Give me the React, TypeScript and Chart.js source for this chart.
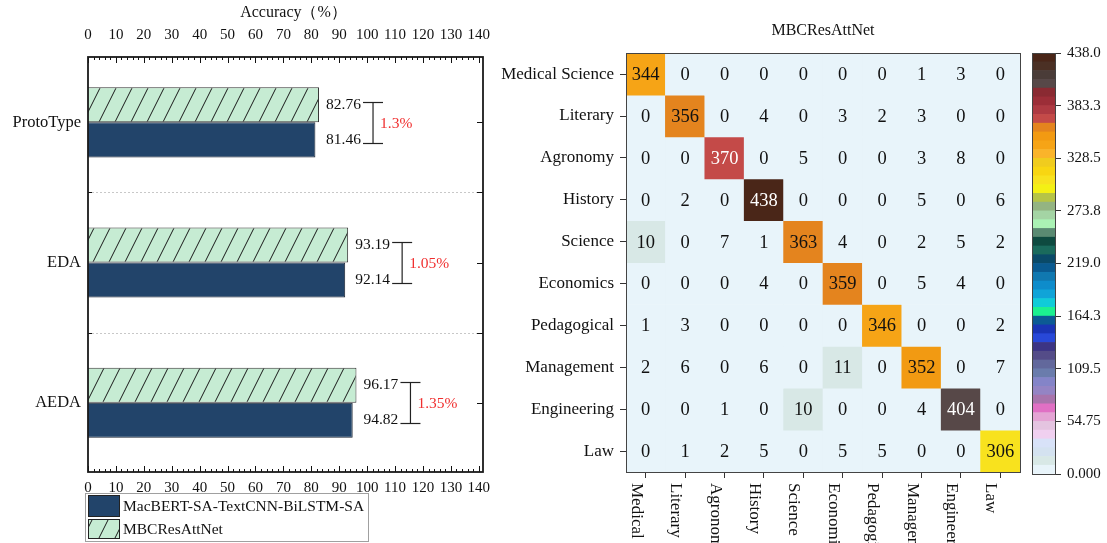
import React, { useEffect, useRef } from "react";
import { Chart, registerables } from "chart.js";

Chart.register(...registerables);

const SERIF = '"Liberation Serif", "Times New Roman", "DejaVu Serif", serif';
Chart.defaults.font.family = SERIF;
Chart.defaults.color = "#111";

// ---- Accuracy comparison (left panel) ----
const augmentations = ["ProtoType", "EDA", "AEDA"];
const macbertAcc = [81.46, 92.14, 94.82];
const mbcAcc = [82.76, 93.19, 96.17];
const accuracyTicks = [0, 10, 20, 30, 40, 50, 60, 70, 80, 90, 100, 110, 120, 130, 140];
const accuracyTitle = "Accuracy（%）";
const macbertName = "MacBERT-SA-TextCNN-BiLSTM-SA";
const mbcName = "MBCResAttNet";

// ---- Confusion matrix (right panel) ----
const classes = [
  "Medical Science",
  "Literary",
  "Agronomy",
  "History",
  "Science",
  "Economics",
  "Pedagogical",
  "Management",
  "Engineering",
  "Law",
];
const confusion = [
  [344, 0, 0, 0, 0, 0, 0, 1, 3, 0],
  [0, 356, 0, 4, 0, 3, 2, 3, 0, 0],
  [0, 0, 370, 0, 5, 0, 0, 3, 8, 0],
  [0, 2, 0, 438, 0, 0, 0, 5, 0, 6],
  [10, 0, 7, 1, 363, 4, 0, 2, 5, 2],
  [0, 0, 0, 4, 0, 359, 0, 5, 4, 0],
  [1, 3, 0, 0, 0, 0, 346, 0, 0, 2],
  [2, 6, 0, 6, 0, 11, 0, 352, 0, 7],
  [0, 0, 1, 0, 10, 0, 0, 4, 404, 0],
  [0, 1, 2, 5, 0, 5, 5, 0, 0, 306],
];
const colorbarTicks = [0, 54.75, 109.5, 164.25, 219, 273.75, 328.5, 383.25, 438];
const colorbarTickLabels = ["0.000", "54.75", "109.5", "164.3", "219.0", "273.8", "328.5", "383.3", "438.0"];

// discrete colour levels, lowest value first
const colorLevels = [
  "#E8F4FA", "#D8E8E6", "#D4E2F0", "#D8E2F8", "#F0D0F0", "#E4C4E0", "#E4A4D4", "#E070C4",
  "#A874AC", "#9484C4", "#8484C8", "#6A7CAC", "#62689C", "#544C88", "#3C3484", "#2848D8",
  "#1A34B4", "#0C5A94", "#1CF090", "#10CCD8", "#10A4D8", "#0E8CCB", "#1078B0", "#0A5A90",
  "#0A4A68", "#1A6A5C", "#0E4A40", "#5A8A72", "#AAF2B4", "#A4D4A4", "#94B482", "#B6C446",
  "#F4F014", "#F8E21E", "#F8D612", "#F0CC1E", "#FAB42A", "#F6A416", "#F29A12", "#E4841E",
  "#C44A48", "#AE3A42", "#9C2E38", "#8A2A32", "#574848", "#4A3C38", "#4B3024", "#4A2618",
];

const colorbarMax = Math.max(...confusion.flat());
const levelStep = colorbarMax / colorLevels.length;

function cellColor(v: number): string {
  const k = Math.min(colorLevels.length - 1, Math.floor(v / levelStep));
  return colorLevels[k];
}

function isDark(hex: string): boolean {
  const n = parseInt(hex.slice(1), 16);
  const r = (n >> 16) & 255, g = (n >> 8) & 255, b = n & 255;
  return (0.299 * r + 0.587 * g + 0.114 * b) / 255 < 0.5;
}

const DARK_BAR = "#22446A";
const LIGHT_GREEN = "#C6ECD3";

function makeHatch(): CanvasPattern | string {
  const c = document.createElement("canvas");
  c.width = 16;
  c.height = 32;
  const g = c.getContext("2d");
  if (!g) return LIGHT_GREEN;
  g.fillStyle = LIGHT_GREEN;
  g.fillRect(0, 0, 16, 32);
  g.strokeStyle = "#1a1a1a";
  g.lineWidth = 1;
  g.beginPath();
  for (const off of [-16, 0, 16]) {
    g.moveTo(off, 32);
    g.lineTo(off + 16, 0);
  }
  g.stroke();
  return g.createPattern(c, "repeat") || LIGHT_GREEN;
}

function line(ctx: CanvasRenderingContext2D, x1: number, y1: number, x2: number, y2: number) {
  ctx.beginPath();
  ctx.moveTo(x1, y1);
  ctx.lineTo(x2, y2);
  ctx.stroke();
}

// keep tick-label overflow from shrinking the plot area
const noOverflow = (s: any) => {
  s.paddingLeft = 0;
  s.paddingRight = 0;
  s.paddingTop = 0;
  s.paddingBottom = 0;
};

function accuracyConfig(hatch: CanvasPattern | string): any {
  const decor = {
    id: "accuracyDecor",
    afterDraw(chart: any) {
      const ctx: CanvasRenderingContext2D = chart.ctx;
      const ca = chart.chartArea;
      const xs = chart.scales.x;
      const ys = chart.scales.y;
      ctx.save();

      // axis title above the top scale
      ctx.fillStyle = "#111";
      ctx.font = `16px ${SERIF}`;
      ctx.textAlign = "center";
      ctx.textBaseline = "middle";
      ctx.fillText(accuracyTitle, (ca.left + ca.right) / 2 + 8, 13);

      // dotted separators between groups
      ctx.strokeStyle = "#c8c8c8";
      ctx.lineWidth = 1;
      ctx.setLineDash([2, 2]);
      for (let i = 0; i < augmentations.length - 1; i++) {
        const y = Math.round(ys.getPixelForValue(i + 0.5)) + 0.5;
        line(ctx, ca.left, y, ca.right, y);
      }
      ctx.setLineDash([]);

      // inward ticks on top and bottom axes
      ctx.strokeStyle = "#111";
      ctx.lineWidth = 1;
      const last = accuracyTicks[accuracyTicks.length - 1];
      for (let v = accuracyTicks[0]; v <= last; v += 2) {
        const x = Math.round(xs.getPixelForValue(v)) + 0.5;
        const len = v % 10 === 0 ? 6 : 3;
        line(ctx, x, ca.top, x, ca.top + len);
        line(ctx, x, ca.bottom, x, ca.bottom - len);
      }
      // right axis ticks at groups and separators, left axis at separators
      for (let i = 0; i < augmentations.length; i++) {
        const y = Math.round(ys.getPixelForValue(i)) + 0.5;
        line(ctx, ca.right - 6, y, ca.right, y);
        if (i < augmentations.length - 1) {
          const ys2 = Math.round(ys.getPixelForValue(i + 0.5)) + 0.5;
          line(ctx, ca.right - 6, ys2, ca.right, ys2);
          line(ctx, ca.left, ys2, ca.left + 4, ys2);
        }
      }

      // frame
      ctx.strokeStyle = "#1a1a1a";
      ctx.lineWidth = 1.8;
      ctx.strokeRect(ca.left, ca.top, ca.right - ca.left, ca.bottom - ca.top);

      // value labels and difference brackets
      const top = chart.getDatasetMeta(0).data;
      const bot = chart.getDatasetMeta(1).data;
      ctx.font = `15.5px ${SERIF}`;
      ctx.textBaseline = "middle";
      ctx.textAlign = "left";
      for (let i = 0; i < augmentations.length; i++) {
        const a = top[i];
        const b = bot[i];
        const lx = Math.max(a.x, b.x) + 7;
        ctx.fillStyle = "#111";
        ctx.fillText(mbcAcc[i].toFixed(2), lx, a.y);
        ctx.fillText(macbertAcc[i].toFixed(2), lx, b.y);
        const bx = lx + 37;
        const y1 = Math.round(a.y - 3) + 0.5;
        const y2 = Math.round(b.y + 3) + 0.5;
        ctx.strokeStyle = "#222";
        ctx.lineWidth = 1.2;
        line(ctx, bx, y1, bx + 20, y1);
        line(ctx, bx, y2, bx + 20, y2);
        line(ctx, bx + 10, y1, bx + 10, y2);
        ctx.fillStyle = "#f03030";
        const diff = +(mbcAcc[i] - macbertAcc[i]).toFixed(2);
        ctx.fillText(`${diff}%`, bx + 17, (y1 + y2) / 2 + 1);
      }

      // legend box
      ctx.strokeStyle = "#a0a0a0";
      ctx.lineWidth = 1;
      ctx.strokeRect(85.5, 493.5, 283, 48);
      ctx.fillStyle = DARK_BAR;
      ctx.fillRect(88, 495, 32, 22);
      ctx.strokeStyle = "#222";
      ctx.strokeRect(88.5, 495.5, 31, 21);
      ctx.fillStyle = hatch as any;
      ctx.fillRect(88, 519, 32, 20);
      ctx.strokeRect(88.5, 519.5, 31, 19);
      ctx.fillStyle = "#111";
      ctx.font = `15.5px ${SERIF}`;
      ctx.textAlign = "left";
      ctx.textBaseline = "middle";
      ctx.fillText(macbertName, 123, 506.5);
      ctx.fillText(mbcName, 123, 529.5);

      ctx.restore();
    },
  };

  const xTickSetup = (s: any) => {
    s.ticks = accuracyTicks.map((v) => ({ value: v }));
  };
  const X_MAX = 141.5;

  return {
    type: "bar",
    data: {
      datasets: [
        {
          label: mbcName,
          data: mbcAcc.map((v, i) => ({ x: v, y: i })),
          backgroundColor: hatch,
          borderColor: "#333",
          borderWidth: 1,
        },
        {
          label: macbertName,
          data: macbertAcc.map((v, i) => ({ x: v, y: i })),
          backgroundColor: DARK_BAR,
          borderColor: "#1a2330",
          borderWidth: 1,
        },
      ],
    },
    options: {
      indexAxis: "y",
      animation: false,
      responsive: false,
      events: [],
      layout: { padding: { left: 0, right: 17, top: 0, bottom: 0 } },
      datasets: { bar: { categoryPercentage: 0.5, barPercentage: 1 } },
      plugins: { legend: { display: false }, tooltip: { enabled: false } },
      scales: {
        x: {
          type: "linear",
          position: "top",
          min: 0,
          max: X_MAX,
          afterBuildTicks: xTickSetup,
          grid: { display: false, drawTicks: false },
          border: { display: false },
          ticks: { padding: 13, font: { size: 15 }, color: "#111", maxRotation: 0, autoSkip: false },
          afterFit: (s: any) => {
            s.height = 57;
            noOverflow(s);
          },
        },
        x2: {
          type: "linear",
          position: "bottom",
          min: 0,
          max: X_MAX,
          afterBuildTicks: xTickSetup,
          grid: { display: false, drawTicks: false },
          border: { display: false },
          ticks: { padding: 7, font: { size: 15 }, color: "#111", maxRotation: 0, autoSkip: false },
          afterFit: (s: any) => {
            s.height = 71;
            noOverflow(s);
          },
        },
        y: {
          type: "linear",
          offset: false,
          reverse: true,
          min: -0.466,
          max: 2.494,
          afterBuildTicks: (s: any) => {
            s.ticks = augmentations.map((_, i) => ({ value: i }));
          },
          grid: { display: false, drawTicks: false, offset: false },
          border: { display: false },
          ticks: {
            callback: (_v: any, i: number) => augmentations[i],
            padding: 7,
            font: { size: 16.5 },
            color: "#111",
            autoSkip: false,
          },
          afterFit: (s: any) => {
            s.width = 88;
            noOverflow(s);
          },
        },
      },
    },
    plugins: [decor],
  };
}

function heatmapConfig(): any {
  const decor = {
    id: "heatmapDecor",
    afterDraw(chart: any) {
      const ctx: CanvasRenderingContext2D = chart.ctx;
      const ca = chart.chartArea;
      const xs = chart.scales.x;
      ctx.save();
      // cell counts
      ctx.font = `18.5px ${SERIF}`;
      ctx.textAlign = "center";
      ctx.textBaseline = "middle";
      confusion.forEach((row, r) => {
        const meta = chart.getDatasetMeta(r);
        row.forEach((v, c) => {
          const el = meta.data[c];
          const cy = (el.y + el.base) / 2;
          ctx.fillStyle = isDark(cellColor(v)) ? "#ffffff" : "#111111";
          ctx.fillText(String(v), el.x, cy + 1);
        });
      });
      // frame
      ctx.strokeStyle = "#444";
      ctx.lineWidth = 1;
      ctx.strokeRect(Math.round(ca.left) + 0.5, Math.round(ca.top) + 0.5, Math.round(ca.right - ca.left), Math.round(ca.bottom - ca.top));
      // rotated column labels
      ctx.font = `17px ${SERIF}`;
      ctx.fillStyle = "#111";
      ctx.textAlign = "left";
      ctx.textBaseline = "alphabetic";
      classes.forEach((name, c) => {
        const x = xs.getPixelForValue(c);
        ctx.save();
        ctx.translate(x - 14, ca.bottom + 11);
        ctx.rotate(Math.PI / 2);
        ctx.fillText(name, 0, 0);
        ctx.restore();
      });
      ctx.restore();
    },
  };

  return {
    type: "bar",
    data: {
      labels: classes,
      datasets: confusion.map((row, r) => ({
        label: classes[r],
        data: row.map(() => 1),
        backgroundColor: row.map(cellColor),
        borderWidth: 0,
        barPercentage: 1,
        categoryPercentage: 1,
      })),
    },
    options: {
      animation: false,
      responsive: false,
      events: [],
      layout: { padding: { left: 0, right: 5, top: 0, bottom: 0 } },
      plugins: {
        legend: { display: false },
        tooltip: { enabled: false },
        title: {
          display: true,
          text: "MBCResAttNet",
          fullSize: false,
          color: "#111",
          font: { size: 16, weight: "normal" },
          padding: { top: 21, bottom: 13 },
        },
      },
      scales: {
        x: {
          stacked: true,
          grid: { display: true, drawOnChartArea: false, drawTicks: true, tickLength: 6, offset: false, color: "#333" },
          border: { display: false },
          ticks: { display: false },
          afterFit: (s: any) => {
            s.height = 71;
            noOverflow(s);
          },
        },
        y: {
          type: "linear",
          stacked: true,
          reverse: true,
          min: 0,
          max: classes.length,
          afterBuildTicks: (s: any) => {
            s.ticks = classes.map((_, i) => ({ value: i + 0.5 }));
          },
          grid: { display: true, drawOnChartArea: false, drawTicks: true, tickLength: 6, color: "#333" },
          border: { display: false },
          ticks: {
            callback: (_v: any, i: number) => classes[i],
            padding: 6,
            font: { size: 17 },
            color: "#111",
            autoSkip: false,
          },
          afterFit: (s: any) => {
            s.width = 146;
            noOverflow(s);
          },
        },
      },
    },
    plugins: [decor],
  };
}

function colorbarConfig(): any {
  const frame = {
    id: "colorbarFrame",
    afterDraw(chart: any) {
      const ctx: CanvasRenderingContext2D = chart.ctx;
      const ca = chart.chartArea;
      ctx.save();
      ctx.strokeStyle = "#444";
      ctx.lineWidth = 1;
      ctx.strokeRect(Math.round(ca.left) + 0.5, Math.round(ca.top) + 0.5, Math.round(ca.right - ca.left), Math.round(ca.bottom - ca.top));
      ctx.restore();
    },
  };
  return {
    type: "bar",
    data: {
      labels: [""],
      datasets: colorLevels.map((col) => ({
        data: [levelStep],
        backgroundColor: col,
        borderWidth: 0,
        barPercentage: 1,
        categoryPercentage: 1,
      })),
    },
    options: {
      animation: false,
      responsive: false,
      events: [],
      layout: { padding: { left: 12, right: 0, top: 53, bottom: 69 } },
      plugins: { legend: { display: false }, tooltip: { enabled: false } },
      scales: {
        x: { display: false, stacked: true },
        y: {
          type: "linear",
          position: "right",
          stacked: true,
          min: 0,
          max: colorbarMax,
          afterBuildTicks: (s: any) => {
            s.ticks = colorbarTicks.map((v) => ({ value: v }));
          },
          grid: { display: true, drawOnChartArea: false, drawTicks: true, tickLength: 6, color: "#333" },
          border: { display: false },
          ticks: {
            callback: (_v: any, i: number) => colorbarTickLabels[i],
            padding: 6,
            font: { size: 15 },
            color: "#111",
            autoSkip: false,
          },
          afterFit: (s: any) => {
            s.width = 52;
            noOverflow(s);
          },
        },
      },
    },
    plugins: [frame],
  };
}

export default function App() {
  const leftRef = useRef<HTMLCanvasElement>(null);
  const heatRef = useRef<HTMLCanvasElement>(null);
  const barRef = useRef<HTMLCanvasElement>(null);

  useEffect(() => {
    const hatch = makeHatch();
    const charts: Chart[] = [];
    if (leftRef.current) charts.push(new Chart(leftRef.current, accuracyConfig(hatch)));
    if (heatRef.current) charts.push(new Chart(heatRef.current, heatmapConfig()));
    if (barRef.current) charts.push(new Chart(barRef.current, colorbarConfig()));
    return () => charts.forEach((c) => c.destroy());
  }, []);

  return (
    <div style={{ position: "fixed", left: 0, top: 0, width: 1107, height: 543, background: "#ffffff", overflow: "hidden" }}>
      <canvas ref={leftRef} width={500} height={543} style={{ position: "absolute", left: 0, top: 0, width: 500, height: 543 }} />
      <canvas ref={heatRef} width={545} height={543} style={{ position: "absolute", left: 480, top: 0, width: 545, height: 543 }} />
      <canvas ref={barRef} width={87} height={543} style={{ position: "absolute", left: 1020, top: 0, width: 87, height: 543 }} />
    </div>
  );
}
